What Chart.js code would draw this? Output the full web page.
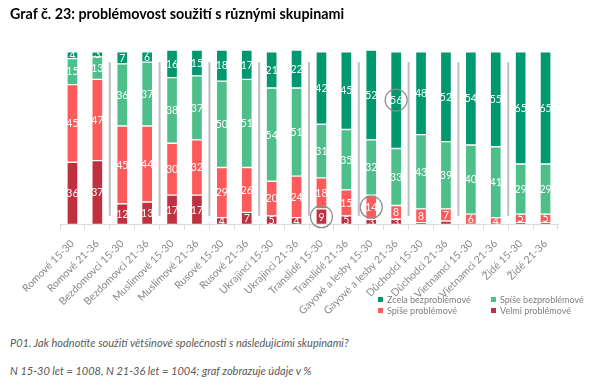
<!DOCTYPE html>
<html>
<head>
<meta charset="utf-8">
<script src="https://cdn.jsdelivr.net/npm/chart.js@4/dist/chart.umd.min.js"></script>
<style>
  body { margin: 0; background: #fff; font-family: Lato, "Open Sans", sans-serif; }
  #wrap { position: relative; width: 591px; height: 390px; overflow: hidden; }
  #title { position: absolute; left: 10px; top: 5px; font-size: 14.3px; font-weight: bold; color: #000; }
  #chartBox { position: absolute; left: 0; top: 0; width: 591px; height: 325px; }
  .note { position: absolute; left: 10px; font-size: 11px; font-style: italic; color: #595959; }
  #legend { position: absolute; left: 378px; top: 294px; font-size: 9px; color: #7f7f7f; }
  #legend .item { position: absolute; white-space: nowrap; }
  #legend .sw { display: inline-block; width: 5px; height: 5px; margin-right: 4px; vertical-align: 1px; }
</style>
</head>
<body>
<div id="wrap">
  <div id="chartBox"><canvas id="chart" width="591" height="325"></canvas></div>
  <div id="title">Graf č. 23: problémovost soužití s různými skupinami</div>
  <div id="legend"></div>
  <div class="note" style="top:336px">P01. Jak hodnotíte soužití většinové společnosti s následujícími skupinami?</div>
  <div class="note" style="top:364px">N 15-30 let = 1008, N 21-36 let = 1004; graf zobrazuje údaje v %</div>
</div>
<script>
const categories = [
    'Romové 15-30', 'Romové 21-36', 'Bezdomovci 15-30', 'Bezdomovci 21-36',
    'Muslimové 15-30', 'Muslimové 21-36', 'Rusové 15-30', 'Rusové 21-36',
    'Ukrajinci 15-30', 'Ukrajinci 21-36', 'Translidé 15-30', 'Translidé 21-36',
    'Gayové a lesby 15-30', 'Gayové a lesby 21-36', 'Důchodci 15-30', 'Důchodci 21-36',
    'Vietnamci 15-30', 'Vietnamci 21-36', 'Židé 15-30', 'Židé 21-36'
];
const velmiProblemove    = [36, 37, 12, 13, 17, 17, 4, 7, 5, 4, 9, 5, 3, 3, 1, 2, 0, 0, 1, 1];
const spiseProblemove    = [45, 47, 45, 44, 30, 32, 29, 26, 20, 24, 18, 15, 14, 8, 8, 7, 6, 4, 5, 5];
const spiseBezproblemove = [15, 13, 36, 37, 38, 37, 50, 51, 54, 51, 31, 35, 32, 33, 43, 39, 40, 41, 29, 29];
const zcelaBezproblemove = [4, 3, 7, 6, 16, 15, 18, 17, 21, 22, 42, 45, 52, 56, 48, 52, 54, 55, 65, 65];

// circled values: [dataset index, category index]
const circled = [[0, 10], [1, 12], [3, 13]];

const colors = {
    zcela: 'rgb(0, 152, 111)',
    spiseBez: 'rgb(78, 191, 138)',
    spiseProb: 'rgb(255, 90, 90)',
    velmi: 'rgb(192, 48, 62)'
};

const datasets = [
    { label: 'Velmi problémové', data: velmiProblemove, backgroundColor: colors.velmi },
    { label: 'Spíše problémové', data: spiseProblemove, backgroundColor: colors.spiseProb },
    { label: 'Spíše bezproblémové', data: spiseBezproblemove, backgroundColor: colors.spiseBez },
    { label: 'Zcela bezproblémové', data: zcelaBezproblemove, backgroundColor: colors.zcela }
];
datasets.forEach(function (d) {
    d.borderColor = '#ffffff';
    d.borderWidth = 1;
    d.borderSkipped = false;
    d.barThickness = 11;
});

// legend (2 columns, Excel-like order)
const legendItems = [
    ['Zcela bezproblémové', colors.zcela, 0, 0],
    ['Spíše bezproblémové', colors.spiseBez, 113, 0],
    ['Spíše problémové', colors.spiseProb, 0, 11],
    ['Velmi problémové', colors.velmi, 113, 11]
];
const legendEl = document.getElementById('legend');
legendItems.forEach(function (it) {
    const div = document.createElement('div');
    div.className = 'item';
    div.style.left = it[2] + 'px';
    div.style.top = it[3] + 'px';
    div.innerHTML = '<span class="sw" style="background:' + it[1] + '"></span>' + it[0];
    legendEl.appendChild(div);
});

const decorations = {
    id: 'decorations',
    afterDatasetsDraw(chart) {
        const ctx = chart.ctx;
        const x = chart.scales.x;
        const y = chart.scales.y;
        ctx.save();
        // separators between the pairs of groups
        ctx.strokeStyle = '#bfbfbf';
        ctx.lineWidth = 2;
        for (let i = 1; i < categories.length / 2; i++) {
            const px = (x.getPixelForValue(2 * i - 1) + x.getPixelForValue(2 * i)) / 2;
            ctx.beginPath();
            ctx.moveTo(px, y.getPixelForValue(94));
            ctx.lineTo(px, y.getPixelForValue(5));
            ctx.stroke();
        }
        // value labels
        ctx.fillStyle = '#ffffff';
        ctx.font = '10.5px Lato, "Open Sans", sans-serif';
        ctx.textAlign = 'center';
        ctx.textBaseline = 'middle';
        chart.data.datasets.forEach(function (ds, di) {
            const meta = chart.getDatasetMeta(di);
            meta.data.forEach(function (bar, i) {
                const v = ds.data[i];
                if (v < 3) return;
                ctx.fillText(String(v), bar.x, (bar.y + bar.base) / 2 + 0.5);
            });
        });
        // circles
        ctx.strokeStyle = '#8c8c8c';
        ctx.lineWidth = 1.2;
        circled.forEach(function (c) {
            const bar = chart.getDatasetMeta(c[0]).data[c[1]];
            ctx.beginPath();
            ctx.arc(bar.x, (bar.y + bar.base) / 2, 11, 0, Math.PI * 2);
            ctx.stroke();
        });
        ctx.restore();
    }
};

new Chart(document.getElementById('chart'), {
    type: 'bar',
    data: { labels: categories, datasets: datasets },
    plugins: [decorations],
    options: {
        responsive: false,
        animation: false,
        maintainAspectRatio: false,
        layout: { padding: { left: 60, right: 33, top: 50, bottom: 0 } },
        scales: {
            x: {
                stacked: true,
                grid: { display: true, drawOnChartArea: false, color: '#d9d9d9', tickLength: 5, offset: true },
                border: { color: '#d9d9d9' },
                ticks: {
                    minRotation: 45, maxRotation: 45, autoSkip: false,
                    color: '#8a8a8a',
                    font: { family: 'Lato, "Open Sans", sans-serif', size: 10.5 },
                    padding: 8
                }
            },
            y: {
                stacked: true, display: false, min: 0, max: 101
            }
        },
        plugins: {
            legend: { display: false },
            tooltip: { enabled: false }
        }
    }
});
</script>
</body>
</html>
